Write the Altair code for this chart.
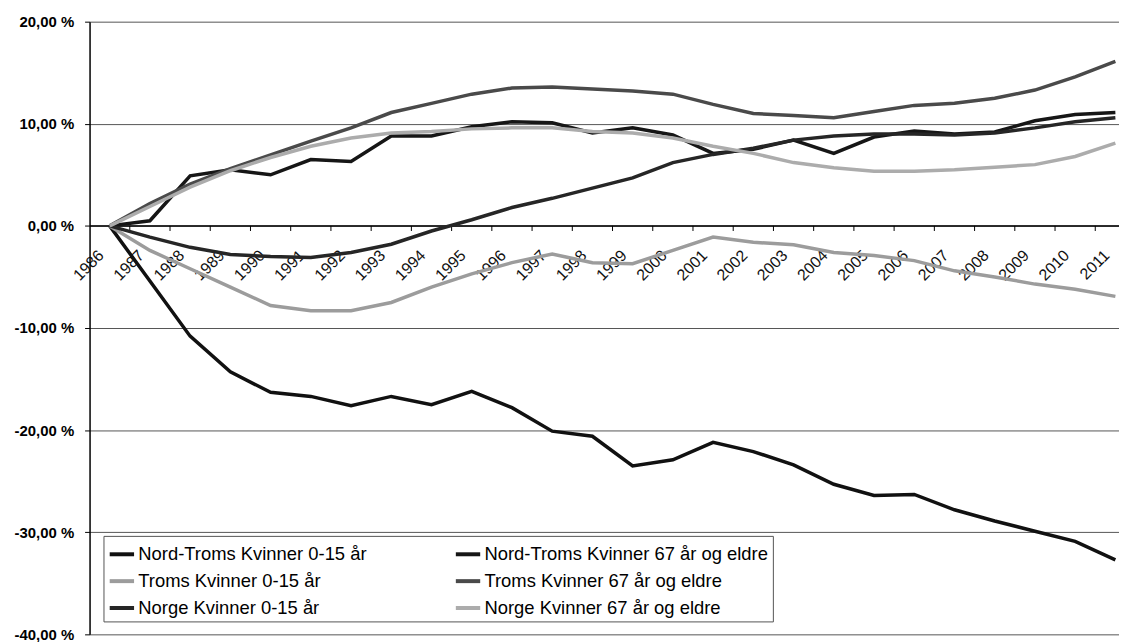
import altair as alt
import pandas as pd

years = list(range(1986, 2012))

series_names = [
    "Nord-Troms Kvinner 0-15 år",
    "Nord-Troms Kvinner 67 år og eldre",
    "Troms Kvinner 0-15 år",
    "Troms Kvinner 67 år og eldre",
    "Norge Kvinner 0-15 år",
    "Norge Kvinner 67 år og eldre",
]

nord_troms_0_15 = [0, -5.4, -10.8, -14.3, -16.3, -16.7, -17.6, -16.7, -17.5, -16.2, -17.8, -20.1, -20.6,
                   -23.5, -22.9, -21.2, -22.1, -23.4, -25.3, -26.4, -26.3, -27.8, -28.9, -29.9, -30.9, -32.7]
nord_troms_67 = [0, 0.5, 4.9, 5.5, 5.0, 6.5, 6.3, 8.8, 8.8, 9.7, 10.2, 10.1, 9.1,
                 9.6, 8.9, 7.1, 7.5, 8.4, 7.1, 8.7, 9.3, 9.0, 9.2, 10.3, 10.9, 11.1]
troms_0_15 = [0, -2.4, -4.2, -6.0, -7.8, -8.3, -8.3, -7.5, -6.0, -4.7, -3.6, -2.75, -3.6,
              -3.7, -2.4, -1.1, -1.6, -1.85, -2.6, -2.9, -3.4, -4.4, -5.0, -5.7, -6.2, -6.9]
troms_67 = [0, 2.2, 4.1, 5.6, 6.95, 8.3, 9.6, 11.1, 12.0, 12.9, 13.5, 13.6, 13.4,
            13.2, 12.9, 11.9, 11.0, 10.8, 10.6, 11.2, 11.8, 12.0, 12.5, 13.3, 14.6, 16.1]
norge_0_15 = [0, -1.1, -2.1, -2.8, -3.0, -3.1, -2.6, -1.8, -0.5, 0.6, 1.8, 2.7, 3.7,
              4.7, 6.2, 7.0, 7.6, 8.4, 8.8, 9.0, 9.0, 8.9, 9.1, 9.6, 10.2, 10.6]
norge_67 = [0, 1.9, 3.8, 5.4, 6.7, 7.8, 8.6, 9.1, 9.25, 9.5, 9.6, 9.6, 9.25,
            9.1, 8.6, 7.8, 7.1, 6.2, 5.7, 5.35, 5.35, 5.5, 5.75, 6.0, 6.8, 8.1]

series_values = [nord_troms_0_15, nord_troms_67, troms_0_15, troms_67, norge_0_15, norge_67]
series_colors = ["#111111", "#161616", "#9c9c9c", "#4a4a4a", "#262626", "#acacac"]

# legend is filled column by column: list the 0-15 series first, then the 67+ series
legend_order = [0, 2, 4, 1, 3, 5]
legend_names = [series_names[i] for i in legend_order]
legend_colors = [series_colors[i] for i in legend_order]

y_ticks = [20, 10, 0, -10, -20, -30, -40]

rows = []
for name, vals in zip(series_names, series_values):
    for yr, v in zip(years, vals):
        rows.append({"year": yr, "value": v, "serie": name})
df = pd.DataFrame(rows)

tick_df = pd.DataFrame({"pos": [y + 0.5 for y in years[:-1]], "top": 0.0, "bottom": -0.5})

x_scale = alt.Scale(domain=[1985.5, 2011.09], nice=False, zero=False)
y_scale = alt.Scale(domain=[-40, 20], nice=False, zero=False)

lines = alt.Chart(df).mark_line(strokeWidth=3.5, clip=True).encode(
    x=alt.X("year:Q", scale=x_scale, title=None,
            axis=alt.Axis(values=years, format="d", labelAngle=315, labelAlign="right",
                          labelBaseline="middle", labelPadding=27, labelOffset=-9,
                          ticks=False, tickSize=0, grid=False, offset=-411,
                          domainColor="black", domainWidth=1.5,
                          labelFont="Liberation Sans", labelFontSize=16, labelColor="#111")),
    y=alt.Y("value:Q", scale=y_scale, title=None,
            axis=alt.Axis(values=y_ticks,
                          labelExpr="(datum.value < 0 ? '-' : '') + replace(format(abs(datum.value), '.2f'), '.', ',') + ' %'",
                          labelFont="Liberation Sans", labelFontSize=15, labelFontWeight="bold",
                          labelColor="black", labelPadding=11, tickSize=5, tickColor="black",
                          domainColor="black", domainWidth=1.5,
                          grid=True, gridColor="#555555", gridWidth=1)),
    color=alt.Color("serie:N", sort=legend_names,
                    scale=alt.Scale(domain=legend_names, range=legend_colors),
                    legend=alt.Legend(orient="none", legendX=14, legendY=517, columns=2, title=None,
                                      symbolType="stroke", symbolStrokeWidth=4, symbolSize=600,
                                      labelFont="Liberation Sans", labelFontSize=18.5, labelColor="black",
                                      labelLimit=400, labelOffset=2, strokeColor="#555555",
                                      fillColor="white", padding=4, rowPadding=3, columnPadding=25,
                                      gridAlign="all")),
    order=alt.Order("serie:N"),
)

ticks = alt.Chart(tick_df).mark_rule(color="black", strokeWidth=1).encode(
    x=alt.X("pos:Q", scale=x_scale),
    y=alt.Y("top:Q", scale=y_scale),
    y2="bottom:Q",
)

chart = alt.layer(ticks, lines).properties(
    width=1035, height=616,
    autosize=alt.AutoSizeParams(type="none"),
    padding={"left": 82, "top": 12, "right": 0, "bottom": 14},
    background="white",
).configure_view(strokeWidth=0)

chart.save("out.html", embed_options={"renderer": "svg", "actions": False})
